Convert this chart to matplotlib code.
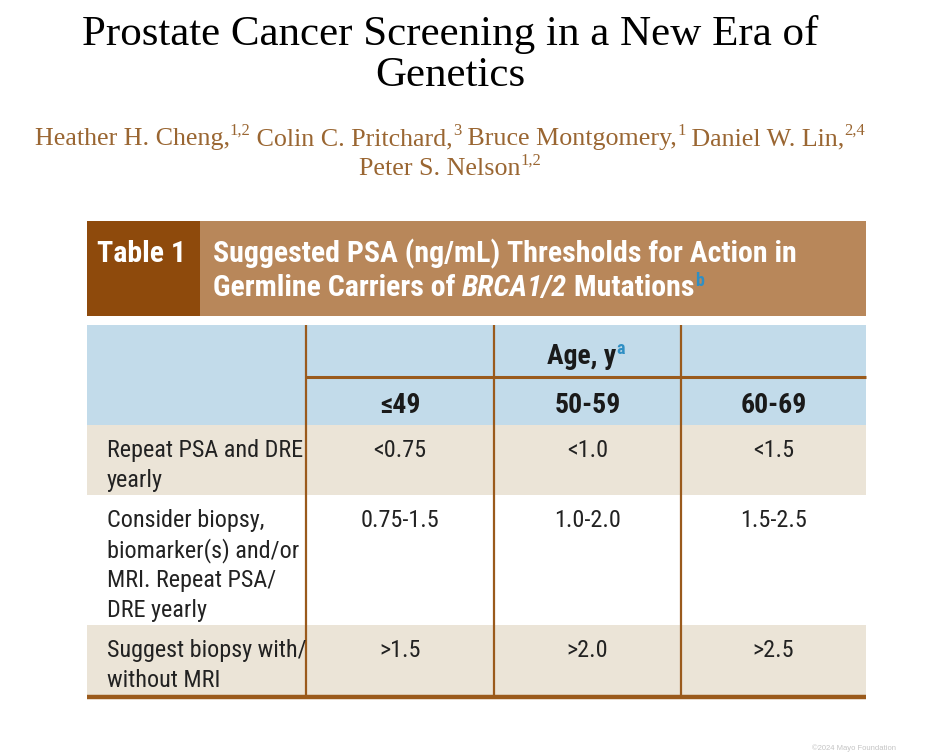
import matplotlib
matplotlib.use('Agg')
import matplotlib.pyplot as plt
from matplotlib.patches import Rectangle

# table content
title_lines = ['Prostate Cancer Screening in a New Era of', 'Genetics']
authors = [[('Heather H. Cheng,', '1,2'), (' Colin C. Pritchard,', '3'),
            (' Bruce Montgomery,', '1'), (' Daniel W. Lin,', '2,4')],
           [('Peter S. Nelson', '1,2')]]
table_no = 'Table 1'
ages = ['≤49', '50-59', '60-69']
actions = [['Repeat PSA and DRE', 'yearly'],
           ['Consider biopsy,', 'biomarker(s) and/or', 'MRI. Repeat PSA/', 'DRE yearly'],
           ['Suggest biopsy with/', 'without MRI']]
thresholds = [['<0.75', '<1.0', '<1.5'],
              ['0.75-1.5', '1.0-2.0', '1.5-2.5'],
              ['>1.5', '>2.0', '>2.5']]

SERIF = ['Liberation Serif', 'DejaVu Serif']
NARROW = ['Roboto Condensed', 'Liberation Sans Narrow', 'Roboto', 'DejaVu Sans']
BROWN_TXT = '#9a6632'
DARK = '#8e4a0c'
LIGHT = '#b8875a'
BLUE_BG = '#c2dbea'
BEIGE = '#ebe4d7'
LINE = '#9a5a1c'
SUP_BLUE = '#2f8fc4'

fig = plt.figure(figsize=(9.29, 7.52), dpi=100)
ax = fig.add_axes([0, 0, 1, 1])
ax.set_xlim(0, 929)
ax.set_ylim(752, 0)
ax.axis('off')
r = fig.canvas.get_renderer()


def runs(x, y, parts, ha='left'):
    # parts: (text, kwargs, raise_px)
    ts = []
    for s, kw, up in parts:
        t = ax.text(0, y - up, s, va='baseline', ha='left', **kw)
        ts.append(t)
    widths = [t.get_window_extent(r).width for t in ts]
    total = sum(widths)
    x0 = x - total / 2 if ha == 'center' else x
    for t, w in zip(ts, widths):
        t.set_x(x0)
        x0 += w


# title
for i, line in enumerate(title_lines):
    ax.text(450, 45 + i * 41, line, ha='center', va='baseline',
            fontsize=31, family=SERIF, color='black')

# authors
for i, line in enumerate(authors):
    parts = []
    for name, sup in line:
        parts.append((name, dict(fontsize=18.7, family=SERIF, color=BROWN_TXT), 0))
        parts.append((sup, dict(fontsize=12, family=SERIF, color=BROWN_TXT), 10))
    runs(450, 145 + i * 30, parts, ha='center')

# header band
ax.add_patch(Rectangle((87, 221), 113, 95, color=DARK, lw=0))
ax.add_patch(Rectangle((200, 221), 666, 95, color=LIGHT, lw=0))
hb = dict(fontsize=21.5, family=NARROW, weight='bold', color='white')
ax.text(97, 262, table_no, va='baseline', **hb)
ax.text(213, 262, 'Suggested PSA (ng/mL) Thresholds for Action in', va='baseline', **hb)
runs(213, 296, [('Germline Carriers of ', hb, 0),
                ('BRCA1/2', dict(hb, style='italic'), 0),
                (' Mutations', hb, 0),
                ('b', dict(fontsize=13, family=NARROW, weight='bold', color=SUP_BLUE), 10)])

# table body
col_x = [306, 494, 681, 866]
ax.add_patch(Rectangle((87, 325), 779, 100, color=BLUE_BG, lw=0))
row_top = [425, 495, 625]
row_bot = [495, 625, 695]
fills = [BEIGE, 'white', BEIGE]
for t0, t1, c in zip(row_top, row_bot, fills):
    ax.add_patch(Rectangle((87, t0), 779, t1 - t0, color=c, lw=0))

hdr = dict(fontsize=20, family=NARROW, weight='bold', color='#1a1a1a')
runs((col_x[0] + col_x[3]) / 2, 364,
     [('Age, y', hdr, 0),
      ('a', dict(fontsize=13, family=NARROW, weight='bold', color=SUP_BLUE), 10)],
     ha='center')
for j, a in enumerate(ages):
    ax.text((col_x[j] + col_x[j + 1]) / 2, 413, a, ha='center', va='baseline', **hdr)

body = dict(fontsize=17.4, family=NARROW, color='#222222')
for i, (lines, vals) in enumerate(zip(actions, thresholds)):
    base = row_top[i] + 32
    for k, s in enumerate(lines):
        ax.text(107, base + k * 30, s, va='baseline', **body)
    for j, v in enumerate(vals):
        ax.text((col_x[j] + col_x[j + 1]) / 2, base, v, ha='center', va='baseline', **body)

# rules
for xv in col_x[:3]:
    ax.plot([xv, xv], [325, 697], color=LINE, lw=1.6, solid_capstyle='butt')
ax.plot([col_x[0], 866], [377, 377], color=LINE, lw=2.2, solid_capstyle='butt')
ax.plot([87, 866], [697, 697], color=LINE, lw=3.2, solid_capstyle='butt')

ax.text(812, 750, '©2024 Mayo Foundation',
        fontsize=5.5, family=['Liberation Sans', 'DejaVu Sans'], color='#c4c4c4',
        va='baseline')

fig.savefig('out.png', dpi=100)
